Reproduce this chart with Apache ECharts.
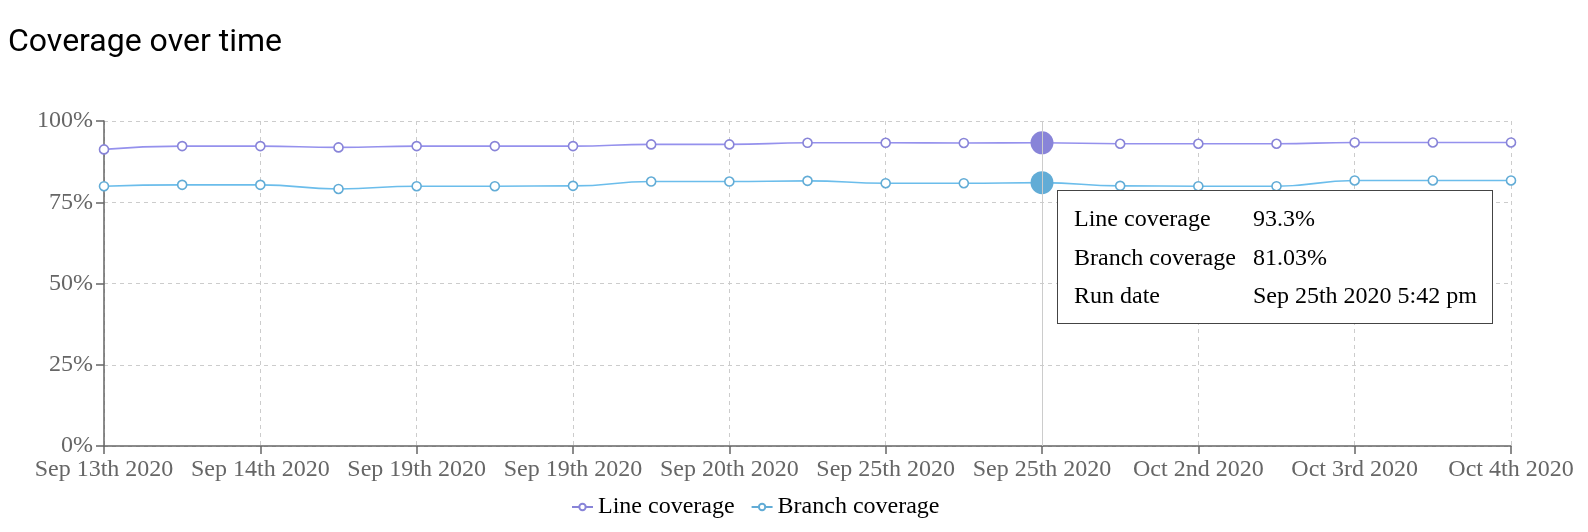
<!DOCTYPE html>
<html>
<head>
    <meta charset="UTF-8">
    <title>Coverage over time</title>
    <style>
        html, body { margin: 0; padding: 0; background: #fff; }
        #chart { width: 1588px; height: 532px; }
    </style>
    <script src="https://cdn.jsdelivr.net/npm/echarts@6/dist/echarts.min.js"></script>
</head>
<body>
<div id="chart"></div>
<script>
    // data
    var runLabels = ['Sep 13th 2020', 'Sep 14th 2020', 'Sep 14th 2020', 'Sep 16th 2020', 'Sep 19th 2020',
        'Sep 19th 2020', 'Sep 19th 2020', 'Sep 20th 2020', 'Sep 20th 2020', 'Sep 22nd 2020',
        'Sep 25th 2020', 'Sep 25th 2020', 'Sep 25th 2020', 'Sep 28th 2020', 'Oct 2nd 2020',
        'Oct 2nd 2020', 'Oct 3rd 2020', 'Oct 4th 2020', 'Oct 4th 2020'];
    var runTimes = ['10:12 am', '9:30 am', '4:05 pm', '2:18 pm', '11:02 am',
        '3:40 pm', '6:21 pm', '10:47 am', '5:15 pm', '1:33 pm',
        '9:08 am', '2:56 pm', '5:42 pm', '12:20 pm', '10:31 am',
        '4:44 pm', '11:58 am', '9:26 am', '3:11 pm'];
    var lineCoverage = [91.26, 92.28, 92.28, 91.87, 92.28, 92.28, 92.28, 92.8, 92.8, 93.3,
        93.3, 93.25, 93.3, 93.0, 93.0, 93.0, 93.4, 93.4, 93.4];
    var branchCoverage = [79.94, 80.35, 80.35, 79.1, 79.94, 79.94, 80.04, 81.38, 81.38, 81.58,
        80.86, 80.86, 81.03, 80.04, 79.94, 79.94, 81.7, 81.7, 81.7];
    var yTicks = [0, 25, 50, 75, 100];

    var serif = '"Liberation Serif", "Times New Roman", serif';
    var purple = '#8884d8';
    var blue = '#62acd6';

    function makeSeries(name, values, color) {
        return {
            name: name,
            type: 'line',
            data: values,
            smooth: true,
            smoothMonotone: 'x',
            symbol: 'circle',
            symbolSize: 9,
            lineStyle: { color: color, width: 1.6 },
            itemStyle: { color: '#fff', borderColor: color, borderWidth: 1.6 },
            emphasis: {
                scale: 2.55,
                itemStyle: { color: color, borderColor: color, borderWidth: 0 },
                lineStyle: { width: 1.6 }
            }
        };
    }

    var chart = echarts.init(document.getElementById('chart'));
    var option = {
        animation: false,
        backgroundColor: '#fff',
        title: {
            text: 'Coverage over time',
            left: 3,
            top: 22,
            textStyle: { fontFamily: 'Roboto', fontSize: 32, fontWeight: 'normal', color: '#000' }
        },
        legend: {
            left: 566,
            top: 490,
            itemWidth: 21,
            itemHeight: 8,
            itemGap: 16,
            textStyle: { fontFamily: serif, fontSize: 24, color: '#000' },
            data: ['Line coverage', 'Branch coverage']
        },
        grid: { left: 104, right: 77, top: 121, bottom: 86 },
        tooltip: {
            trigger: 'axis',
            axisPointer: { type: 'line', lineStyle: { color: '#ccc', width: 1, type: 'solid' } },
            backgroundColor: '#fff',
            borderColor: '#444',
            borderWidth: 1,
            borderRadius: 0,
            padding: [8, 15, 8, 16],
            extraCssText: 'box-shadow:none;',
            position: function () { return [1057, 190]; },
            formatter: function (params) {
                var i = params[0].dataIndex;
                var td1 = '<td style="padding:0 17px 0 0;">';
                var td2 = '<td style="padding:0;">';
                return '<table style="border-collapse:collapse;font-family:' + serif.replace(/"/g, "'") +
                    ';font-size:24px;line-height:38.5px;color:#000;">' +
                    '<tr>' + td1 + 'Line coverage</td>' + td2 + lineCoverage[i] + '%</td></tr>' +
                    '<tr>' + td1 + 'Branch coverage</td>' + td2 + branchCoverage[i] + '%</td></tr>' +
                    '<tr>' + td1 + 'Run date</td>' + td2 + runLabels[i] + ' ' + runTimes[i] + '</td></tr>' +
                    '</table>';
            }
        },
        xAxis: {
            type: 'category',
            boundaryGap: false,
            data: runLabels,
            axisLine: { lineStyle: { color: '#666', width: 1.5 } },
            axisTick: { show: true, interval: 1, length: 8, lineStyle: { color: '#666', width: 1.5 } },
            axisLabel: { interval: 1, margin: 12, color: '#666', fontFamily: serif, fontSize: 24 },
            splitLine: { show: true, interval: 1, lineStyle: { color: '#ccc', type: [4, 4] } }
        },
        yAxis: {
            type: 'value',
            min: yTicks[0],
            max: yTicks[yTicks.length - 1],
            interval: 25,
            axisLine: { show: true, lineStyle: { color: '#666', width: 1.5 } },
            axisTick: { show: true, length: 8, lineStyle: { color: '#666', width: 1.5 } },
            axisLabel: { formatter: '{value}%', margin: 11, color: '#666', fontFamily: serif, fontSize: 24 },
            splitLine: { show: true, lineStyle: { color: '#ccc', type: [4, 4] } }
        },
        series: [
            makeSeries('Line coverage', lineCoverage, purple),
            makeSeries('Branch coverage', branchCoverage, blue)
        ]
    };
    chart.setOption(option);
    chart.dispatchAction({ type: 'showTip', seriesIndex: 0, dataIndex: 12 });
</script>
</body>
</html>
